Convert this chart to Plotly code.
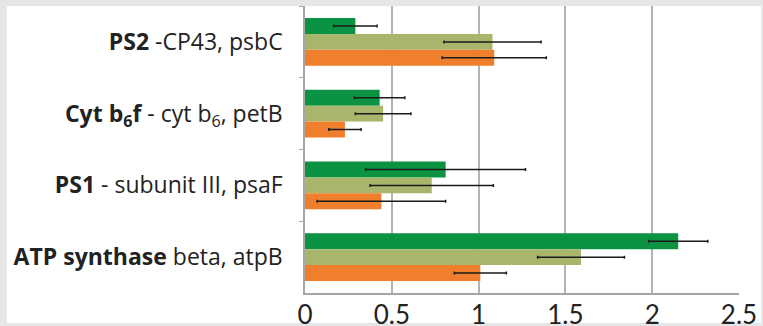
import plotly.graph_objects as go

categories = [
    "<b>PS2</b> -CP43, psbC",
    "<b>Cyt b<sub>6</sub>f</b> - cyt b<sub>6</sub>, petB",
    "<b>PS1</b> - subunit III, psaF",
    "<b>ATP synthase</b> beta, atpB",
]
green_vals = [0.29, 0.43, 0.81, 2.15]
green_err = [0.125, 0.145, 0.46, 0.17]
olive_vals = [1.08, 0.45, 0.73, 1.59]
olive_err = [0.28, 0.16, 0.355, 0.25]
orange_vals = [1.09, 0.23, 0.44, 1.01]
orange_err = [0.30, 0.093, 0.37, 0.15]
x_ticks = [0, 0.5, 1, 1.5, 2, 2.5]

series = [
    ("green", green_vals, green_err, "#0b9343"),
    ("olive", olive_vals, olive_err, "#a8b66c"),
    ("orange", orange_vals, orange_err, "#ef7f2c"),
]

fig = go.Figure()
for name, vals, err, color in series:
    fig.add_trace(go.Bar(
        y=categories, x=vals, orientation="h", name=name,
        marker=dict(color=color, line=dict(width=0)),
        error_x=dict(type="data", array=err, color="#1a1a1a", thickness=1.5, width=1.5),
    ))

# white panel on light gray frame
fig.add_shape(type="rect", xref="paper", yref="paper",
              x0=-0.687, x1=1.051, y0=-0.1045, y1=1.0,
              fillcolor="white", line=dict(width=0), layer="below")

fig.update_layout(
    width=763, height=326,
    margin=dict(l=305, r=24, t=6, b=33),
    paper_bgcolor="#e6e6e6",
    plot_bgcolor="white",
    barmode="group",
    bargap=1 / 3,
    bargroupgap=0,
    showlegend=False,
    font=dict(family="Lato", color="#222222"),
)
fig.update_xaxes(
    range=[0, 2.5], tickvals=x_ticks, ticktext=[f"{v:g}" for v in x_ticks],
    showgrid=True, gridcolor="#b3b3b3", gridwidth=1.5,
    zeroline=False, showline=True, linecolor="#a6a6a6", linewidth=1.5,
    ticks="", tickfont=dict(size=26, color="#222222"),
    ticklabelstandoff=-2, automargin=False,
)
fig.update_yaxes(
    autorange="reversed", showgrid=False,
    showline=True, linecolor="#a6a6a6", linewidth=1.5,
    ticks="outside", ticklen=4, tickcolor="#a6a6a6", tickson="boundaries",
    tickfont=dict(family="Open Sans", size=23, color="#222222"),
    ticklabelstandoff=16, automargin=False,
)

fig.write_html("out.html", config={"displayModeBar": False},
               post_script="document.body.style.margin='0';")
